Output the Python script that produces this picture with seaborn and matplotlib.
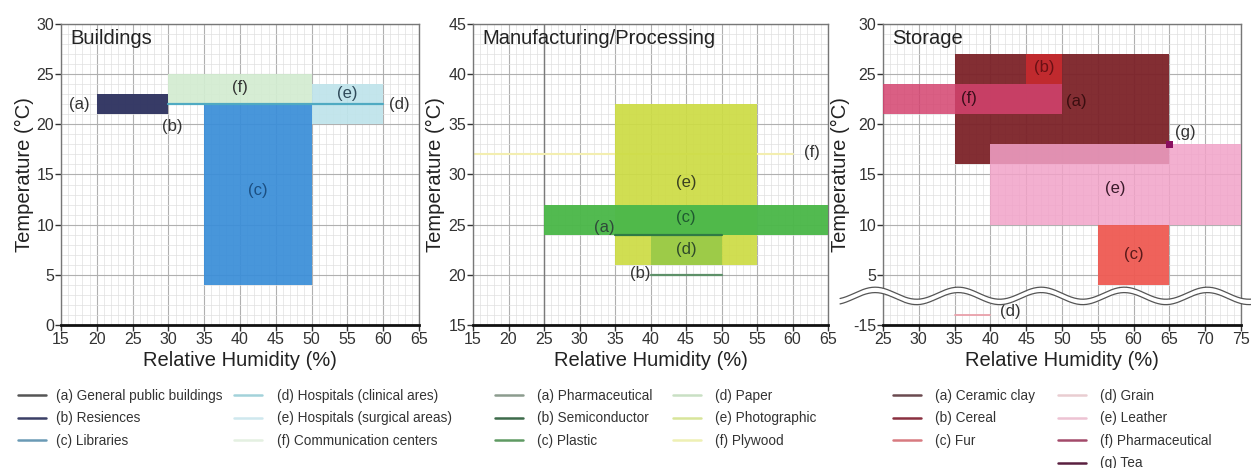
import numpy as np
import pandas as pd
import seaborn as sns
import matplotlib
matplotlib.use("Agg")
import matplotlib.pyplot as plt
from matplotlib.lines import Line2D

# ---------------- data ----------------
# Buildings
bld_names = ["(a) General public buildings", "(b) Resiences", "(c) Libraries",
             "(d) Hospitals (clinical ares)", "(e) Hospitals (surgical areas)",
             "(f) Communication centers"]
bld_rh_lo = [20, 20, 35, 30, 50, 30]
bld_rh_hi = [30, 30, 50, 60, 60, 50]
bld_t_lo = [21, 21, 4, 22, 20, 22]
bld_t_hi = [23, 23, 22, 22, 24, 25]

# Manufacturing / processing
mfg_names = ["(a) Pharmaceutical", "(b) Semiconductor", "(c) Plastic",
             "(d) Paper", "(e) Photographic", "(f) Plywood"]
mfg_rh_lo = [35, 40, 25, 40, 35, 15]
mfg_rh_hi = [50, 50, 65, 50, 55, 60]
mfg_t_lo = [24, 20, 24, 21, 21, 32]
mfg_t_hi = [24, 20, 27, 24, 37, 32]

# Storage
sto_names = ["(a) Ceramic clay", "(b) Cereal", "(c) Fur", "(d) Grain",
             "(e) Leather", "(f) Pharmaceutical", "(g) Tea"]
sto_rh_lo = [35, 45, 55, 35, 40, 25, 65]
sto_rh_hi = [65, 50, 65, 40, 75, 50, 65]
sto_t_lo = [16, 24, 4, -14, 10, 21, 18]
sto_t_hi = [27, 27, 10, -14, 18, 24, 18]

# ---------------- style ----------------
sns.set_theme(style="white")
plt.rcParams['font.family'] = ['Liberation Sans', 'DejaVu Sans']

W, H = 1251, 468
fig = plt.figure(figsize=(W / 100, H / 100), dpi=100)


def px_axes(left, right, top, bottom):
    return fig.add_axes([left / W, 1 - bottom / H, (right - left) / W, (bottom - top) / H])


ax1 = px_axes(61, 419, 24, 325)
ax2 = px_axes(473, 828, 24, 325)
ax3 = px_axes(883, 1241, 24, 325)


def style_axes(ax, xlim, ylim, title, ylabels=None):
    ax.set_xlim(*xlim)
    ax.set_ylim(*ylim)
    ax.set_xticks(np.arange(xlim[0], xlim[1] + 1, 5))
    ax.set_xticks(np.arange(xlim[0], xlim[1] + 1, 1), minor=True)
    ax.set_yticks(np.arange(ylim[0], ylim[1] + 1, 5))
    ax.set_yticks(np.arange(ylim[0], ylim[1] + 1, 1), minor=True)
    if ylabels is not None:
        ax.set_yticklabels(ylabels)
    ax.grid(which='major', color='#b0b0b0', lw=0.8)
    ax.grid(which='minor', color='#e0e0e0', lw=0.5)
    ax.set_axisbelow(True)
    ax.tick_params(which='major', direction='out', length=4, width=1,
                   color='#333333', labelsize=11.5, labelcolor='#333333',
                   bottom=True, left=True, pad=1)
    ax.tick_params(which='minor', length=0)
    for s in ax.spines.values():
        s.set_visible(True)
        s.set_color('#777777')
        s.set_linewidth(1.0)
    ax.spines['bottom'].set_color('#111111')
    ax.spines['bottom'].set_linewidth(2.0)
    ax.set_xlabel("Relative Humidity (%)", fontsize=14.5, color='#222222', labelpad=3)
    ax.set_ylabel("Temperature (°C)", fontsize=14.5, color='#222222', labelpad=2)
    ax.text(0.025, 0.985, title, transform=ax.transAxes, ha='left', va='top',
            fontsize=14.5, color='#222222')


def draw_box(ax, lo_x, hi_x, lo_t, hi_t, color, z, alpha=0.93):
    ax.bar(x=lo_x, height=hi_t - lo_t, width=hi_x - lo_x, bottom=lo_t,
           align='edge', color=color, linewidth=0, alpha=alpha, zorder=z)


def draw_seg(ax, lo_x, hi_x, t, color, z, lw=1.6):
    seg = pd.DataFrame({"rh": [lo_x, hi_x], "t": [t, t]})
    sns.lineplot(data=seg, x="rh", y="t", color=color, lw=lw, ax=ax,
                 legend=False, zorder=z)


def add_legend(names, colors, x_px, y_px, textpad=0.75):
    handles = [Line2D([], [], color=c, lw=1.8) for c in colors]
    fig.legend(handles, names, loc='upper left',
               bbox_to_anchor=(x_px / W, 1 - y_px / H), frameon=False,
               fontsize=9.8, handlelength=2.05, handletextpad=textpad,
               labelspacing=0.62, borderaxespad=0, borderpad=0,
               labelcolor='#333333')


# ---------------- Buildings ----------------
b_fill = ['#363a66', '#363a66', '#3a8ed8', '#4faac2', '#bfe4eb', '#d3ecd1']
for i in [5, 4, 2]:
    draw_box(ax1, bld_rh_lo[i], bld_rh_hi[i], bld_t_lo[i], bld_t_hi[i], b_fill[i], 2)
for i in [0, 1]:
    draw_box(ax1, bld_rh_lo[i], bld_rh_hi[i], bld_t_lo[i], bld_t_hi[i], b_fill[i], 3)
draw_seg(ax1, bld_rh_lo[3], bld_rh_hi[3], bld_t_lo[3], b_fill[3], 4)
style_axes(ax1, (15, 65), (0, 30), "Buildings")
lab_kw = dict(fontsize=12, ha='center', va='center', zorder=6)
ax1.text(17.5, 22, "(a)", color='#333333', **lab_kw)
ax1.text(30.6, 19.8, "(b)", color='#333333', **lab_kw)
ax1.text(42.5, 13.4, "(c)", color='#1b4f82', **lab_kw)
ax1.text(62.3, 22, "(d)", color='#333333', **lab_kw)
ax1.text(55, 23.1, "(e)", color='#2f4a5a', **lab_kw)
ax1.text(40, 23.7, "(f)", color='#333333', **lab_kw)

b_leg = ['#555555', '#3b3f66', '#6a9ab5', '#a3d2da', '#cfe8ee', '#e4f0e1']
add_legend(bld_names[:3], b_leg[:3], 18, 389)
add_legend(bld_names[3:], b_leg[3:], 234, 389, textpad=1.1)

# ---------------- Manufacturing / Processing ----------------
m_fill = ['#2f7a45', '#5d9068', '#4cb84a', '#9ccb48', '#cddc45', '#f3eeb0']
ax2.axvline(25, color='#7a7a7a', lw=1.0, zorder=1)
draw_seg(ax2, mfg_rh_lo[5], mfg_rh_hi[5], mfg_t_lo[5], m_fill[5], 2, lw=1.5)
draw_box(ax2, mfg_rh_lo[4], mfg_rh_hi[4], mfg_t_lo[4], mfg_t_hi[4], m_fill[4], 3)
draw_box(ax2, mfg_rh_lo[2], mfg_rh_hi[2], mfg_t_lo[2], mfg_t_hi[2], m_fill[2], 4, alpha=0.97)
draw_box(ax2, mfg_rh_lo[3], mfg_rh_hi[3], mfg_t_lo[3], mfg_t_hi[3], m_fill[3], 4, alpha=0.97)
draw_seg(ax2, mfg_rh_lo[0], mfg_rh_hi[0], mfg_t_lo[0], m_fill[0], 5)
draw_seg(ax2, mfg_rh_lo[1], mfg_rh_hi[1], mfg_t_lo[1], m_fill[1], 5)
style_axes(ax2, (15, 65), (15, 45), "Manufacturing/Processing")
ax2.text(33.5, 24.7, "(a)", color='#2f4a3a', **lab_kw)
ax2.text(38.5, 20.1, "(b)", color='#333333', **lab_kw)
ax2.text(45, 25.7, "(c)", color='#1f5a30', **lab_kw)
ax2.text(45, 22.5, "(d)", color='#2f4a2a', **lab_kw)
ax2.text(45, 29.2, "(e)", color='#3a4020', **lab_kw)
ax2.text(62.8, 32.2, "(f)", color='#333333', **lab_kw)

m_leg = ['#8c9c8e', '#3d6b4a', '#5f9a63', '#c9e0c4', '#d8e59a', '#eef0b4']
add_legend(mfg_names[:3], m_leg[:3], 495, 389, textpad=1.0)
add_legend(mfg_names[3:], m_leg[3:], 673, 389, textpad=1.0)

# ---------------- Storage (broken temperature axis) ----------------
def to_axis(t):
    # values below the break are shifted up so that -15 sits at the bottom
    return t if t >= 4 else t + 15


s_fill = ['#7c2228', '#c42a2e', '#ef5a52', '#e9a0aa', '#f2a2c8', '#d4436f', '#8a1060']
draw_box(ax3, sto_rh_lo[0], sto_rh_hi[0], to_axis(sto_t_lo[0]), to_axis(sto_t_hi[0]), s_fill[0], 2, alpha=0.95)
draw_box(ax3, sto_rh_lo[1], sto_rh_hi[1], to_axis(sto_t_lo[1]), to_axis(sto_t_hi[1]), s_fill[1], 3, alpha=0.95)
draw_box(ax3, sto_rh_lo[2], sto_rh_hi[2], to_axis(sto_t_lo[2]), to_axis(sto_t_hi[2]), s_fill[2], 3, alpha=0.95)
draw_box(ax3, sto_rh_lo[5], sto_rh_hi[5], to_axis(sto_t_lo[5]), to_axis(sto_t_hi[5]), s_fill[5], 4, alpha=0.85)
draw_box(ax3, sto_rh_lo[4], sto_rh_hi[4], to_axis(sto_t_lo[4]), to_axis(sto_t_hi[4]), s_fill[4], 4, alpha=0.85)
draw_seg(ax3, sto_rh_lo[3], sto_rh_hi[3], to_axis(sto_t_lo[3]), s_fill[3], 4, lw=1.3)
sns.scatterplot(x=[sto_rh_lo[6]], y=[to_axis(sto_t_lo[6])], marker='s', s=30,
                color=s_fill[6], edgecolor='none', ax=ax3, zorder=6, legend=False)
style_axes(ax3, (25, 75), (0, 30), "Storage",
           ylabels=["-15", "5", "10", "15", "20", "25", "30"])

# axis-break wave
wx = np.linspace(19, 76.5, 400)
wy = 2.9 + 0.6 * np.cos(2 * np.pi * (wx - 35.5) / 11.6)
ax3.fill_between(wx, wy - 0.25, wy + 0.25, color='white', zorder=7, clip_on=False, lw=0)
ax3.plot(wx, wy + 0.27, color='#555555', lw=0.9, zorder=8, clip_on=False)
ax3.plot(wx, wy - 0.27, color='#555555', lw=0.9, zorder=8, clip_on=False)

ax3.text(52, 22.3, "(a)", color='#3a0e10', **lab_kw)
ax3.text(47.5, 25.7, "(b)", color='#6a1014', **lab_kw)
ax3.text(60, 7, "(c)", color='#5a1a1a', **lab_kw)
ax3.text(42.8, 1.3, "(d)", color='#333333', **lab_kw)
ax3.text(57.5, 13.6, "(e)", color='#3a1a2a', **lab_kw)
ax3.text(37, 22.6, "(f)", color='#3a0e1a', **lab_kw)
ax3.text(67.2, 19.2, "(g)", color='#333333', **lab_kw)

s_leg = ['#6b4a50', '#8a3040', '#d87a80', '#e9cdd1', '#edc3d3', '#a34a6a', '#5a2040']
add_legend(sto_names[:3], s_leg[:3], 893, 389, textpad=1.0)
add_legend(sto_names[3:], s_leg[3:], 1058, 389, textpad=1.0)

fig.savefig("out.png", dpi=100)
